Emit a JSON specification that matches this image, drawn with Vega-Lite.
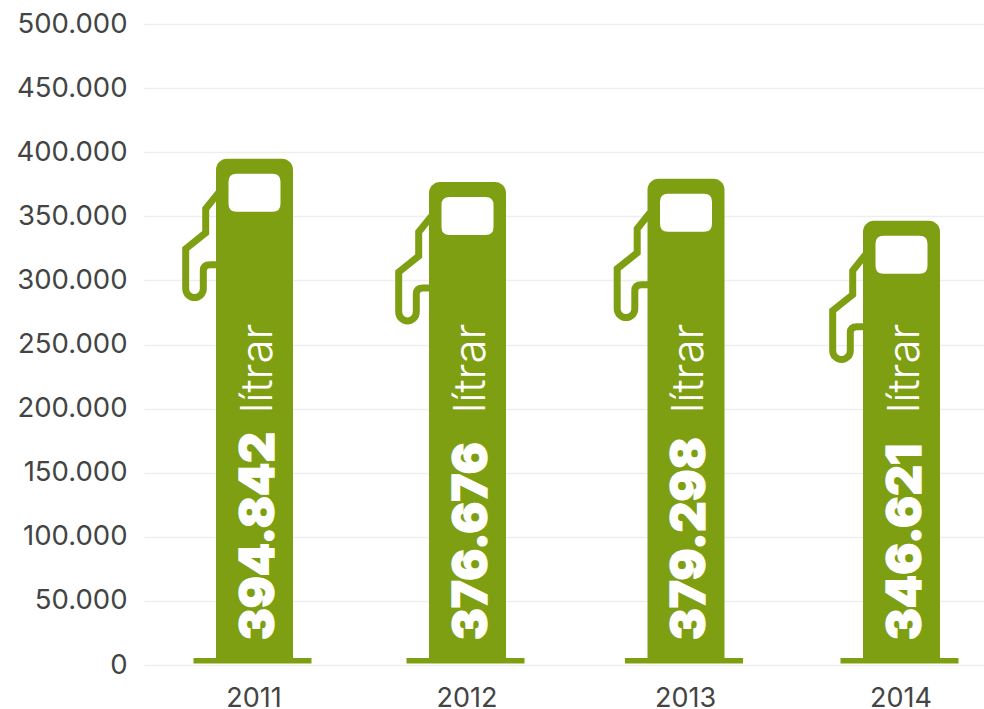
{
"$schema":"https://vega.github.io/schema/vega-lite/v6.json",
"width":840,"height":641,
"autosize":{"type":"none"},
"padding":{"left":144,"top":24,"right":0,"bottom":44},
"background":"white",
"config":{"view":{"stroke":null}},
"data":{"values":[
{"year":2011,"litrar":394842,"label":"394.842","unit":"lítrar"},
{"year":2012,"litrar":376676,"label":"376.676","unit":"lítrar"},
{"year":2013,"litrar":379298,"label":"379.298","unit":"lítrar"},
{"year":2014,"litrar":346621,"label":"346.621","unit":"lítrar"}
]},
"encoding":{
"x":{"field":"year","type":"quantitative","scale":{"domain":[2010,2011,2012,2013,2014,2015],"range":[0,110.5,323.5,542,757.5,840],"nice":false,"zero":false},"axis":{"title":null,"values":[2011,2012,2013,2014],"format":"d","grid":false,"domain":false,"ticks":false,"labelFont":"Inter","labelFontSize":27,"labelColor":"#444444","labelPadding":20,"labelOffset":-1,"labelFontWeight":400,"labelFlush":false}}
},
"layer":[
{"mark":{"type":"bar","orient":"vertical","size":77,"color":"#7f9f13","cornerRadiusTopLeft":11,"cornerRadiusTopRight":11},
 "encoding":{"y":{"field":"litrar","type":"quantitative","scale":{"domain":[0,500000],"nice":false},
   "axis":{"title":null,"values":[0,50000,100000,150000,200000,250000,300000,350000,400000,450000,500000],"labelExpr":"replace(format(datum.value,','),',','.')","domain":false,"ticks":false,"grid":true,"gridColor":"#eeeeee","gridWidth":1.5,"labelFont":"Inter","labelFontSize":27.5,"labelColor":"#444444","labelPadding":17,"labelFontWeight":400}},
   "y2":{"datum":1600}}},
{"mark":{"type":"tick","orient":"horizontal","color":"#7f9f13","size":118,"thickness":5.5,"opacity":1,"xOffset":-2},
 "encoding":{"y":{"datum":3400,"type":"quantitative"}}},
{"mark":{"type":"point","filled":false,"stroke":"#7f9f13","strokeWidth":7,"opacity":1,"size":4,
   "shape":"M -36 34 L -48.8 50 L -48.8 74 L -68.8 90 L -68.8 130 A 8.8 8.8 0 0 0 -51.2 130 L -51.2 112 Q -51.2 106 -44.5 106 L -36 106"},
 "encoding":{"y":{"field":"litrar","type":"quantitative"}}},
{"mark":{"type":"point","filled":true,"fill":"white","stroke":null,"opacity":1,"size":4,
   "shape":"M -18 15 L 18 15 Q 26 15 26 23 L 26 45 Q 26 53 18 53 L -18 53 Q -26 53 -26 45 L -26 23 Q -26 15 -18 15 Z"},
 "encoding":{"y":{"field":"litrar","type":"quantitative"}}},
{"mark":{"type":"text","angle":270,"align":"left","baseline":"middle","color":"white","stroke":"white","strokeWidth":1.2,"font":"Inter","fontWeight":900,"fontSize":47.5,"dy":5},
 "encoding":{"y":{"datum":19500,"type":"quantitative"},"text":{"field":"label"}}},
{"mark":{"type":"text","angle":270,"align":"left","baseline":"middle","color":"white","font":"Inter","fontWeight":300,"fontSize":44,"dy":4},
 "encoding":{"y":{"datum":196500,"type":"quantitative"},"text":{"field":"unit"}}}
]
}
